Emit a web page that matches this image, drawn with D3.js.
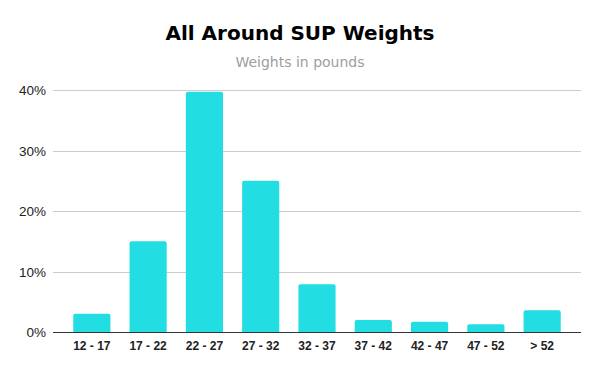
<!DOCTYPE html>
<html lang="en">
<head>
<meta charset="UTF-8">
<title>All Around SUP Weights</title>
<script src="https://d3js.org/d3.v7.min.js"></script>
<style>
    body { margin: 0; background: #fff; }
    .title { font-family: "DejaVu Sans", Verdana, sans-serif; font-weight: bold; font-size: 20px; fill: #000; }
    .subtitle { font-family: "DejaVu Sans", Verdana, sans-serif; font-size: 14px; fill: #9e9e9e; }
    .ytick { font-family: "Liberation Sans", Arial, sans-serif; font-size: 13.5px; fill: #222; }
    .xtick { font-family: "Liberation Sans", Arial, sans-serif; font-size: 12px; font-weight: bold; fill: #222; }
</style>
</head>
<body>
<svg id="chart" width="600" height="371"></svg>
<script>
    // chart data
    const categories = ["12 - 17", "17 - 22", "22 - 27", "27 - 32", "32 - 37", "37 - 42", "42 - 47", "47 - 52", "> 52"];
    const shares = [3.0, 15.0, 39.7, 25.0, 7.9, 2.0, 1.7, 1.3, 3.6];
    const yTicks = [0, 10, 20, 30, 40];

    const svg = d3.select("#chart");
    const plotLeft = 53, plotRight = 581, plotTop = 90, plotBottom = 332;

    const x = d3.scaleBand()
        .domain(categories)
        .range([plotLeft, plotRight])
        .paddingInner(0.34)
        .paddingOuter(0.36);

    const y = d3.scaleLinear()
        .domain([0, 40])
        .range([plotBottom, plotTop]);

    // title
    svg.append("text").attr("class", "title")
        .attr("x", 300).attr("y", 40).attr("text-anchor", "middle")
        .text("All Around SUP Weights");
    svg.append("text").attr("class", "subtitle")
        .attr("x", 300).attr("y", 67).attr("text-anchor", "middle")
        .text("Weights in pounds");

    // gridlines
    svg.append("g").selectAll("line")
        .data(yTicks.filter(d => d > 0))
        .enter().append("line")
        .attr("x1", plotLeft).attr("x2", plotRight)
        .attr("y1", d => Math.round(y(d)) + 0.5).attr("y2", d => Math.round(y(d)) + 0.5)
        .attr("stroke", "#cccccc").attr("stroke-width", 1);

    svg.append("g").selectAll("text")
        .data(yTicks)
        .enter().append("text")
        .attr("class", "ytick")
        .attr("x", 46).attr("y", d => y(d) + 5)
        .attr("text-anchor", "end")
        .text(d => d + "%");

    // bars with slightly rounded tops
    const r = 2;
    svg.append("g").selectAll("path")
        .data(shares)
        .enter().append("path")
        .attr("fill", "#22dde2")
        .attr("d", (d, i) => {
            const x0 = x(categories[i]), w = x.bandwidth();
            const top = y(d), bot = plotBottom;
            return `M${x0},${bot}V${top + r}Q${x0},${top} ${x0 + r},${top}H${x0 + w - r}Q${x0 + w},${top} ${x0 + w},${top + r}V${bot}Z`;
        });

    // baseline
    svg.append("line")
        .attr("x1", plotLeft).attr("x2", plotRight)
        .attr("y1", plotBottom + 0.5).attr("y2", plotBottom + 0.5)
        .attr("stroke", "#333").attr("stroke-width", 1);

    svg.append("g").selectAll("text")
        .data(categories)
        .enter().append("text")
        .attr("class", "xtick")
        .attr("x", d => x(d) + x.bandwidth() / 2)
        .attr("y", 350)
        .attr("text-anchor", "middle")
        .text(d => d);
</script>
</body>
</html>
